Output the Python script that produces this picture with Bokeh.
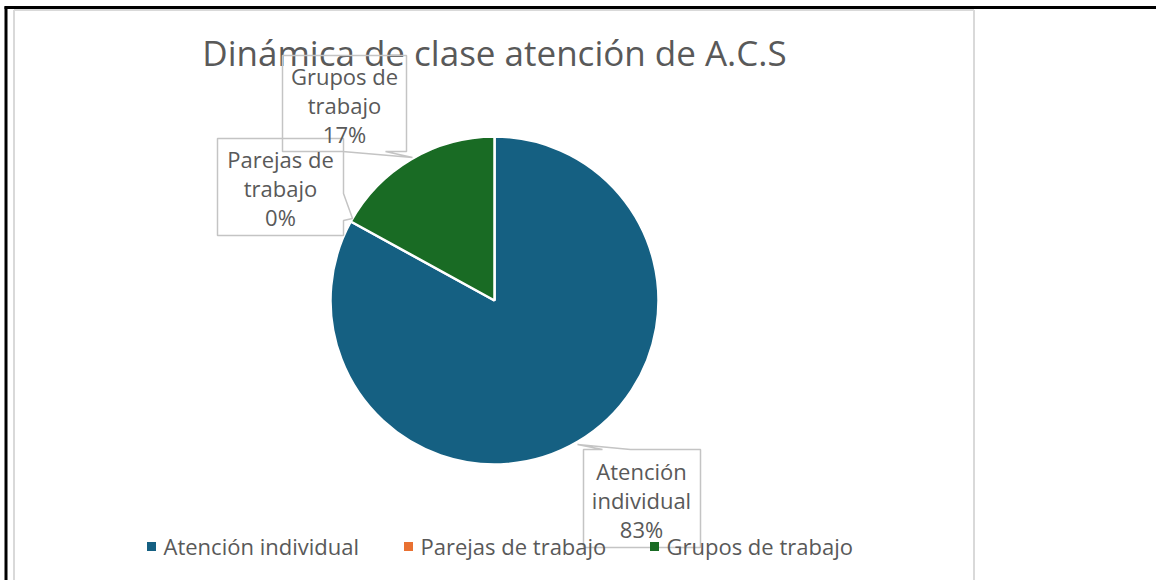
import math
from bokeh.plotting import figure
from bokeh.models import Range1d
from bokeh.core.properties import value
from bokeh.embed import file_html
from bokeh.resources import INLINE

# ---- data ----
categories = ["Atención individual", "Parejas de trabajo", "Grupos de trabajo"]
percents = [83, 0, 17]
colors = ["#156082", "#E97132", "#196B24"]
title_text = "Dinámica de clase atención de A.C.S"

FONT = "Open Sans"
TXT = "#595959"
W, H = 1156, 580

def Y(py):
    return 580 - py

p = figure(width=W, height=H, output_backend="svg", toolbar_location=None,
           x_range=Range1d(0, W), y_range=Range1d(0, H),
           x_axis_location=None, y_axis_location=None, min_border=0)
p.grid.visible = False
p.outline_line_color = None
p.background_fill_color = "white"
p.border_fill_color = "white"

# frame lines
p.line([5.5, 5.5], [Y(6), Y(580)], line_color="black", line_width=3)
p.line([4, 1156], [Y(7), Y(7)], line_color="black", line_width=3)
p.line([13.5, 13.5], [Y(9.5), Y(580)], line_color="#D9D9D9", line_width=2)
p.line([973.5, 973.5], [Y(9.5), Y(580)], line_color="#D9D9D9", line_width=2)
p.line([13.5, 973.5], [Y(9.5), Y(9.5)], line_color="#D9D9D9", line_width=2)

# ---- pie ----
cx, cy, r = 494, Y(300), 164
total = sum(percents)
start = math.pi / 2
starts, ends, cols = [], [], []
for v, c in zip(percents, colors):
    if v == 0:
        continue
    a = v / total * 2 * math.pi
    starts.append(start)
    ends.append(start - a)
    cols.append(c)
    start -= a
p.wedge(x=[cx] * len(starts), y=[cy] * len(starts), radius=r, radius_units="screen",
        start_angle=starts, end_angle=ends, direction="clock",
        fill_color=cols, line_color="white", line_width=2.5)

# title
p.text(x=[494], y=[Y(52)], text=[title_text], text_font=value(FONT),
       text_font_size="35px", text_color=TXT, text_align="center", text_baseline="middle")

# ---- callouts ----
box_col = "#C4C4C4"
def box(xs, ys):
    p.patch(xs, [Y(v) for v in ys], fill_color="white", fill_alpha=0.0,
            line_color=box_col, line_width=1.5)

# Grupos de trabajo
box([282, 406, 406, 385, 412, 342, 282], [55, 55, 151, 151, 157, 151, 151])
# Parejas de trabajo
box([217, 343, 343, 352, 343, 343, 217], [138, 138, 193, 218, 220, 235, 235])
# Atención individual
box([583, 602, 577, 630, 700, 700, 583], [449, 449, 444, 449, 449, 547, 547])

def label(x, y0, lines):
    for i, t in enumerate(lines):
        p.text(x=[x], y=[Y(y0 + i * 29)], text=[t], text_font=value(FONT),
               text_font_size="22px", text_color=TXT, text_align="center",
               text_baseline="middle")

def pct(i):
    return f"{round(percents[i] / total * 100)}%"

label(344, 75, ["Grupos de", "trabajo", pct(2)])
label(280, 158, ["Parejas de", "trabajo", pct(1)])
label(641, 470, ["Atención", "individual", pct(0)])

# ---- legend ----
leg_x = [151, 408, 654]
for lx, c, name in zip(leg_x, colors, categories):
    p.rect(x=[lx], y=[Y(546)], width=9, height=9, width_units="screen",
           height_units="screen", fill_color=c, line_color=None)
    p.text(x=[lx + 12], y=[Y(545)], text=[name], text_font=value(FONT),
           text_font_size="22px", text_color=TXT, text_align="left",
           text_baseline="middle")

open("out.html", "w").write(file_html(p, INLINE))
